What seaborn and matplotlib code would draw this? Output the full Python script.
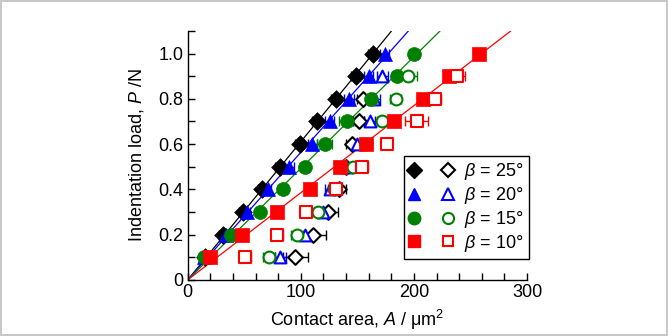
import numpy as np
import pandas as pd
import matplotlib
matplotlib.use("Agg")
import matplotlib.pyplot as plt
import seaborn as sns
from matplotlib.ticker import MultipleLocator, FuncFormatter
from matplotlib.legend_handler import HandlerTuple
from matplotlib.lines import Line2D

# indentation load levels (N)
load = [0.1, 0.2, 0.3, 0.4, 0.5, 0.6, 0.7, 0.8, 0.9, 1.0]

# contact area (um^2), filled symbols (on fit lines)
area_25 = [15, 31, 48.7, 65.5, 81.4, 99, 114, 131, 148.7, 163.7]
area_20 = [14, 33.6, 52, 71, 89.6, 110, 125.7, 142.6, 160, 174]
area_15 = [14, 38, 64, 84, 103.5, 121, 141, 162, 185, 200]
area_10 = [20, 48, 79, 108, 134.5, 158, 182, 208, 231, 257.6]

# contact area (um^2), open symbols
open_25 = [95, 111, 124, 134, 140, 145, 151, 155, np.nan, np.nan]
open_20 = [82, 103.5, 120, 126, 141, 149.5, 161, 165, 172, np.nan]
open_15 = [72, 96.5, 115, 129, 146, 158, 172, 184, 195, np.nan]
open_10 = [51, 79, 105, 131, 154, 176, 202.5, 218.6, 238, np.nan]

# x error bars
err_filled = [3, 3, 3, 3, 4, 4, 4, 4, 4, 4]
err_15f = [3, 3, 3, 4, 4, 7, 7, 4, 4, 4]
err_25 = [11, 11, 9, 6, 5, 5, 5, 5, 5, 5]
err_20 = [5, 5, 5, 5, 5, 5, 5, 5, 5, 5]
err_15 = [5, 5, 5, 5, 5, 5, 5, 5, 8, 8]
err_10 = [5, 5, 5, 5, 5, 5, 10, 5, 7, 7]

angles = ["25", "20", "15", "10"]
colors = ["#000000", "#0000ff", "#008000", "#ff0000"]
markers = ["D", "^", "o", "s"]
msizes = [9, 10, 10, 9.5]

sns.set_style("ticks")
plt.rcParams["font.family"] = ["Liberation Sans", "DejaVu Sans"]
plt.rcParams["mathtext.fontset"] = "custom"
plt.rcParams["mathtext.rm"] = "Liberation Sans"
plt.rcParams["mathtext.it"] = "Liberation Sans:italic"
plt.rcParams["text.color"] = "black"
plt.rcParams["axes.labelcolor"] = "black"
plt.rcParams["xtick.color"] = "black"
plt.rcParams["ytick.color"] = "black"

fig = plt.figure(figsize=(6.68, 3.36), dpi=100)
fig.patch.set_edgecolor("#c8c8c8")
fig.patch.set_linewidth(1.5)
ax = fig.add_axes([0.281, 0.167, 0.508, 0.741])

filled_sets = [area_25, area_20, area_15, area_10]
filled_errs = [err_filled, err_filled, err_15f, err_filled]
open_sets = [open_25, open_20, open_15, open_10]
open_errs = [err_25, err_20, err_15, err_10]

P = np.array(load)
# fit lines through origin
for a, c in zip(filled_sets, colors):
    a = np.array(a)
    k = np.sum(P * a) / np.sum(P * P)
    line_df = pd.DataFrame({"A": [0, k * 1.1], "P": [0, 1.1]})
    sns.lineplot(data=line_df, x="A", y="P", color=c, lw=0.9, ax=ax, zorder=1)

handles = []
for a, ea, o, eo, c, m, ms in zip(filled_sets, filled_errs, open_sets, open_errs,
                                  colors, markers, msizes):
    ax.errorbar(a, load, xerr=ea, fmt="none", ecolor=c, elinewidth=1,
                capsize=3.5, capthick=1, zorder=2)
    ax.errorbar(o, load, xerr=eo, fmt="none", ecolor=c, elinewidth=1,
                capsize=3.5, capthick=1, zorder=2)
    df_f = pd.DataFrame({"A": a, "P": load})
    df_o = pd.DataFrame({"A": o, "P": load}).dropna()
    sns.scatterplot(data=df_f, x="A", y="P", marker=m, s=ms ** 2, color=c,
                    edgecolor=c, linewidth=0.5, ax=ax, zorder=3)
    sns.scatterplot(data=df_o, x="A", y="P", marker=m, s=(ms - 1.5) ** 2,
                    facecolor="white", edgecolor=c, linewidth=1.5, ax=ax, zorder=3)
    hf = Line2D([], [], ls="none", marker=m, ms=ms - 1, color=c, mec=c)
    ho = Line2D([], [], ls="none", marker=m, ms=ms - 2, mfc="white", mec=c, mew=1.5)
    handles.append((hf, ho))

labels = [r"$\beta$ = " + g + "°" for g in angles]
leg = ax.legend(handles, labels, handler_map={tuple: HandlerTuple(ndivide=None, pad=1.4)},
                loc="lower right", bbox_to_anchor=(1.005, 0.084), fontsize=13,
                frameon=True, fancybox=False, edgecolor="black", framealpha=1,
                handlelength=2.4, handletextpad=0.6, labelspacing=0.15,
                borderpad=0.3, borderaxespad=0)
leg.get_frame().set_linewidth(1)

ax.set_xlim(0, 300)
ax.set_ylim(0, 1.1)
ax.xaxis.set_major_locator(MultipleLocator(100))
ax.xaxis.set_minor_locator(MultipleLocator(20))
ax.yaxis.set_major_locator(MultipleLocator(0.2))
ax.yaxis.set_minor_locator(MultipleLocator(0.1))
ax.xaxis.set_major_formatter(FuncFormatter(lambda v, p: "%d" % v))
ax.yaxis.set_major_formatter(FuncFormatter(lambda v, p: "0" if abs(v) < 1e-9 else "%.1f" % v))
ax.tick_params(which="both", direction="in", labelsize=13, color="black",
               labelcolor="black", width=1, pad=3)
ax.tick_params(which="major", length=5)
ax.tick_params(which="minor", length=5)
sns.despine(ax=ax)
for sp in ["left", "bottom"]:
    ax.spines[sp].set_linewidth(1)
    ax.spines[sp].set_color("black")

ax.set_xlabel(r"Contact area, $\mathit{A}$ / μm$^2$", fontsize=13, labelpad=5)
ax.set_ylabel(r"Indentation load, $\mathit{P}$ /N", fontsize=13, labelpad=9)

fig.savefig("out.png", dpi=100)
